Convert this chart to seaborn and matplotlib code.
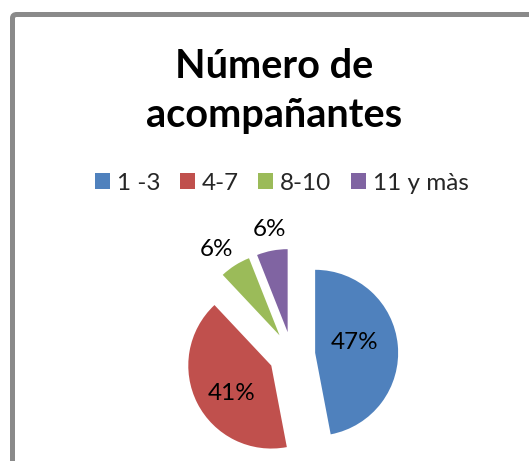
import matplotlib
matplotlib.use('Agg')
import numpy as np
import seaborn as sns
import matplotlib.pyplot as plt
from matplotlib.patches import FancyBboxPatch

# ---- data ----
categories = ['1 -3', '4-7', '8-10', '11 y màs']
percent = [47, 41, 6, 6]
colors = ['#4F81BD', '#C0504D', '#9BBB59', '#8064A2']
title_lines = ['Número de', 'acompañantes']

sns.set_theme(style='white')
plt.rcParams['font.family'] = ['Lato', 'DejaVu Sans']

W, H = 529, 461
fig = plt.figure(figsize=(W / 100, H / 100), dpi=100)
fig.patch.set_facecolor('white')

# chart-area border (left and top edges visible)
border = FancyBboxPatch((12.5 / W, -0.2), 1.5, (H - 14.5) / H + 0.2,
                        boxstyle='round,pad=0,rounding_size=0.008',
                        transform=fig.transFigure, fill=False,
                        edgecolor='#8a8a8a', linewidth=3.6)
fig.patches.append(border)

# pie axes
cx, cy, r = 292, 355, 83
half = 2.0
ax = fig.add_axes([(cx - half * r) / W, (H - cy - half * r) / H,
                   2 * half * r / W, 2 * half * r / H])
wedges, texts, autotexts = ax.pie(
    percent, colors=colors, startangle=90, counterclock=False,
    explode=[0.28] * len(percent), autopct='%.0f%%', radius=1,
    textprops=dict(fontsize=17.5, color='black'),
    wedgeprops=dict(linewidth=0))
ax.set_xlim(-half, half)
ax.set_ylim(-half, half)
ax.set_aspect('equal')
ax.axis('off')

label_place = [(0.49, 10), (0.59, 8), (1.29, 4), (1.25, -1)]
for w, t, (d, off) in zip(wedges, autotexts, label_place):
    ang = np.deg2rad((w.theta1 + w.theta2) / 2 + off)
    x0, y0 = w.center
    t.set_position((x0 + d * np.cos(ang), y0 + d * np.sin(ang)))
    t.set_ha('center')
    t.set_va('center')

# title
fig.text(274 / W, 1 - 78 / H, title_lines[0], ha='center', va='baseline',
         fontsize=28.5, fontweight='bold', color='black')
fig.text(274 / W, 1 - 127 / H, title_lines[1], ha='center', va='baseline',
         fontsize=28.5, fontweight='bold', color='black')

# legend
fig.legend(wedges, categories, loc='center', bbox_to_anchor=(282 / W, 1 - 183 / H),
           ncol=4, frameon=False, fontsize=17.5, handlelength=0.6, handleheight=0.6,
           handletextpad=0.3, columnspacing=0.8, borderpad=0)

fig.savefig('out.png', dpi=100)
